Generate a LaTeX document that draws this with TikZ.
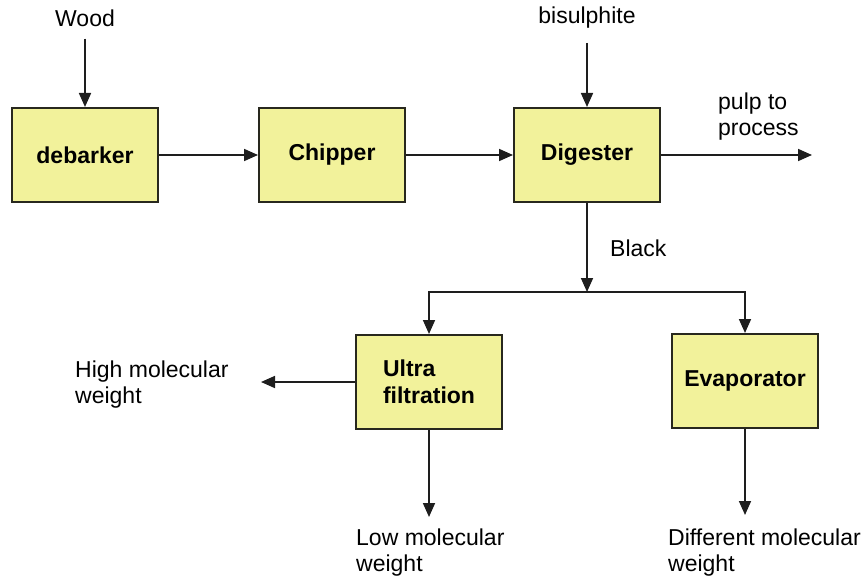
\documentclass[tikz,border=0pt]{standalone}
\usepackage{fontspec}
\setmainfont{Liberation Sans}
\definecolor{boxfill}{RGB}{242,242,155}
\definecolor{boxline}{RGB}{40,40,30}
\definecolor{flowline}{RGB}{30,30,30}
\usetikzlibrary{arrows.meta,positioning}

\begin{document}
\begin{tikzpicture}[x=1pt, y=-1pt,
  every node/.style={font=\fontsize{23}{26}\selectfont},
  unit/.style={draw=boxline, line width=2pt, fill=boxfill, minimum width=146pt, minimum height=94pt, align=left, font=\fontsize{23}{27}\selectfont\bfseries},
  flow/.style={draw=flowline, line width=1.7pt, -{Triangle[length=14pt,width=12pt]}},
  lbl/.style={align=left, inner sep=0pt, anchor=west}]
\useasboundingbox (0,0) rectangle (867,583);
% process units
\node[unit] (debarker) at (85,155) {debarker};
\node[unit] (chipper) at (332,155) {Chipper};
\node[unit] (digester) at (587,155) {Digester};
\node[unit] (ultra) at (429,382) {Ultra\\filtration};
\node[unit] (evap) at (745,381) {Evaporator};
% feeds and products
\node[inner sep=0pt] (wood) at (85,18) {Wood};
\node[inner sep=0pt] (bisul) at (587,18) {bisulphite};
\node[lbl] (pulp) at (718,117) {pulp to\\process};
\node[lbl] (black) at (610,248) {Black};
\node[lbl] (high) at (75,385) {High molecular\\weight};
\node[lbl] (low) at (356,553) {Low molecular\\weight};
\node[lbl] (diff) at (668,553) {Different molecular\\weight};
\coordinate (pulpout) at (812,155);
\coordinate (split) at (587,292);
\coordinate (highout) at (261,382);
\coordinate (lowout) at (429,517);
\coordinate (diffout) at (745,515);
% connections
\draw[flow, shorten <=12pt] (wood) -- (debarker);
\draw[flow, shorten <=14pt] (bisul) -- (digester);
\draw[flow] (debarker) -- (chipper);
\draw[flow] (chipper) -- (digester);
\draw[flow] (digester) -- (pulpout);
\draw[flow] (digester) -- (split);
\draw[flow] (split) -| (ultra);
\draw[flow] (split) -| (evap);
\draw[flow] (ultra) -- (highout);
\draw[flow] (ultra) -- (lowout);
\draw[flow] (evap) -- (diffout);
\end{tikzpicture}
\end{document}
